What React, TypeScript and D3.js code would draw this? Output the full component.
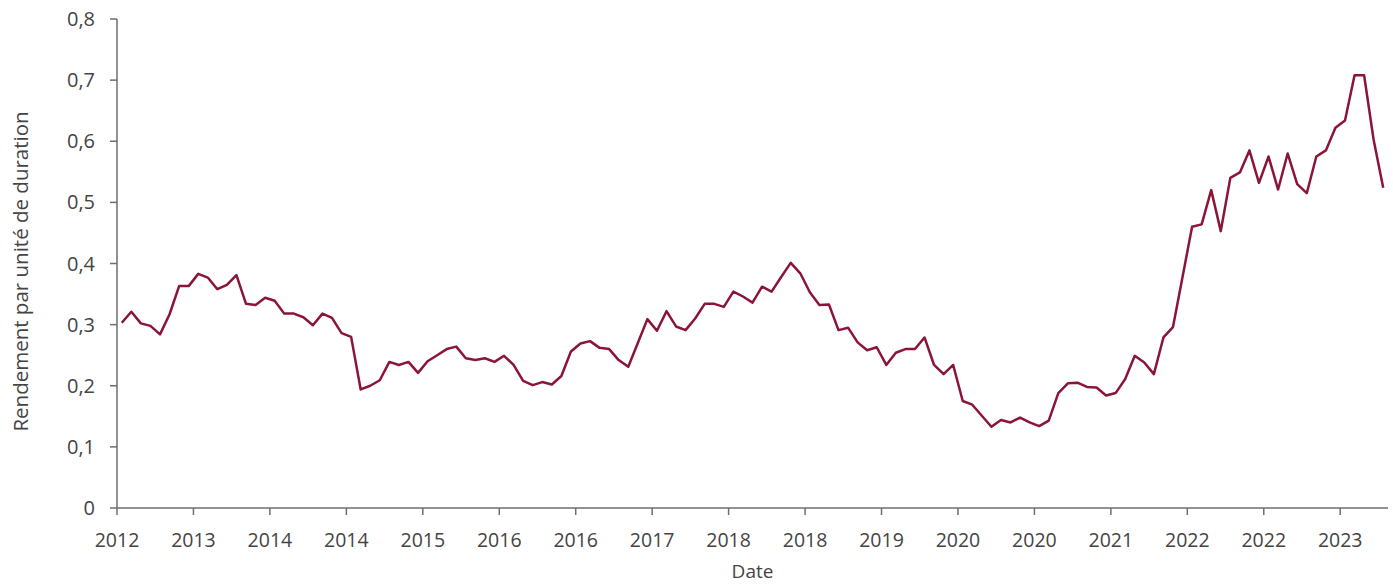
import React from "react";
import * as d3 from "d3";

// Rendement par unité de duration (one value per period)
const values: number[] = [
  0.303, 0.321, 0.302, 0.298, 0.284, 0.317, 0.363, 0.363, 0.383, 0.377,
  0.358, 0.365, 0.381, 0.334, 0.332, 0.344, 0.339, 0.318, 0.318, 0.312,
  0.299, 0.318, 0.311, 0.286, 0.28, 0.194, 0.2, 0.209, 0.239, 0.234,
  0.239, 0.221, 0.24, 0.25, 0.26, 0.264, 0.245, 0.242, 0.245, 0.239,
  0.249, 0.234, 0.208, 0.201, 0.206, 0.202, 0.216, 0.256, 0.269, 0.273,
  0.262, 0.26, 0.242, 0.231, 0.27, 0.309, 0.29, 0.322, 0.297, 0.291,
  0.31, 0.334, 0.334, 0.329, 0.354, 0.346, 0.336, 0.362, 0.354, 0.378,
  0.401, 0.384, 0.353, 0.332, 0.333, 0.291, 0.295, 0.271, 0.258, 0.263,
  0.234, 0.254, 0.26, 0.26, 0.279, 0.234, 0.219, 0.234, 0.175, 0.169,
  0.151, 0.133, 0.144, 0.14, 0.148, 0.14, 0.134, 0.143, 0.188, 0.204,
  0.205, 0.198, 0.197, 0.184, 0.188, 0.211, 0.249, 0.238, 0.219, 0.279,
  0.296, 0.378, 0.46, 0.464, 0.52, 0.453, 0.54, 0.549, 0.585, 0.532,
  0.575, 0.521, 0.58, 0.53, 0.515, 0.575, 0.585, 0.622, 0.634, 0.708,
  0.708, 0.602, 0.524,
];

// x tick labels, one every 8 periods
const xTickLabels: string[] = [
  "2012", "2013", "2014", "2014", "2015", "2016", "2016", "2017", "2018",
  "2018", "2019", "2020", "2020", "2021", "2022", "2022", "2023",
];
const tickEvery = 8;

const yTicks: number[] = [0, 0.1, 0.2, 0.3, 0.4, 0.5, 0.6, 0.7, 0.8];

const yTitle = "Rendement par unité de duration";
const xTitle = "Date";

const W = 1393;
const H = 586;
const left = 117;
const right = 1388;
const top = 19;
const bottom = 508;

const LINE = "#8a1538";
const AXIS = "#6e6e6e";
const TEXT = "#444444";
const FONT = "'Open Sans', 'Noto Sans', sans-serif";

export default function App() {
  const x = d3
    .scaleLinear()
    .domain([-0.5, values.length - 0.5])
    .range([left, right]);
  const y = d3.scaleLinear().domain([0, 0.8]).range([bottom, top]);

  const line = d3
    .line<number>()
    .x((_, i) => x(i))
    .y((d) => y(d));

  const fmt = (v: number) => (v === 0 ? "0" : d3.format(".1f")(v).replace(".", ","));

  return (
    <svg
      width={W}
      height={H}
      style={{ position: "absolute", left: 0, top: 0, background: "#fff" }}
      fontFamily={FONT}
    >
      {/* y axis */}
      <line x1={left} x2={left} y1={top} y2={bottom} stroke={AXIS} strokeWidth={1.5} />
      {yTicks.map((t) => (
        <g key={"y" + t}>
          <line x1={left - 7} x2={left} y1={y(t)} y2={y(t)} stroke={AXIS} strokeWidth={1.5} />
          <text
            x={left - 22}
            y={y(t)}
            dy="0.35em"
            textAnchor="end"
            fontSize={20}
            fill={TEXT}
          >
            {fmt(t)}
          </text>
        </g>
      ))}
      {/* x axis */}
      <line x1={left} x2={right} y1={bottom} y2={bottom} stroke={AXIS} strokeWidth={1.5} />
      {xTickLabels.map((lab, i) => {
        const xx = x(i * tickEvery - 0.5);
        return (
          <g key={"x" + i}>
            <line x1={xx} x2={xx} y1={bottom} y2={bottom + 7} stroke={AXIS} strokeWidth={1.5} />
            <text x={xx} y={547} textAnchor="middle" fontSize={19.5} fill={TEXT}>
              {lab}
            </text>
          </g>
        );
      })}
      {/* data line */}
      <path d={line(values) || ""} fill="none" stroke={LINE} strokeWidth={2.5} strokeLinejoin="round" />
      {/* titles */}
      <text
        transform={`translate(28,${(top + bottom) / 2 + 8}) rotate(-90)`}
        textAnchor="middle"
        fontSize={20.5}
        fill={TEXT}
      >
        {yTitle}
      </text>
      <text x={(left + right) / 2} y={578} textAnchor="middle" fontSize={19} fill={TEXT}>
        {xTitle}
      </text>
    </svg>
  );
}
